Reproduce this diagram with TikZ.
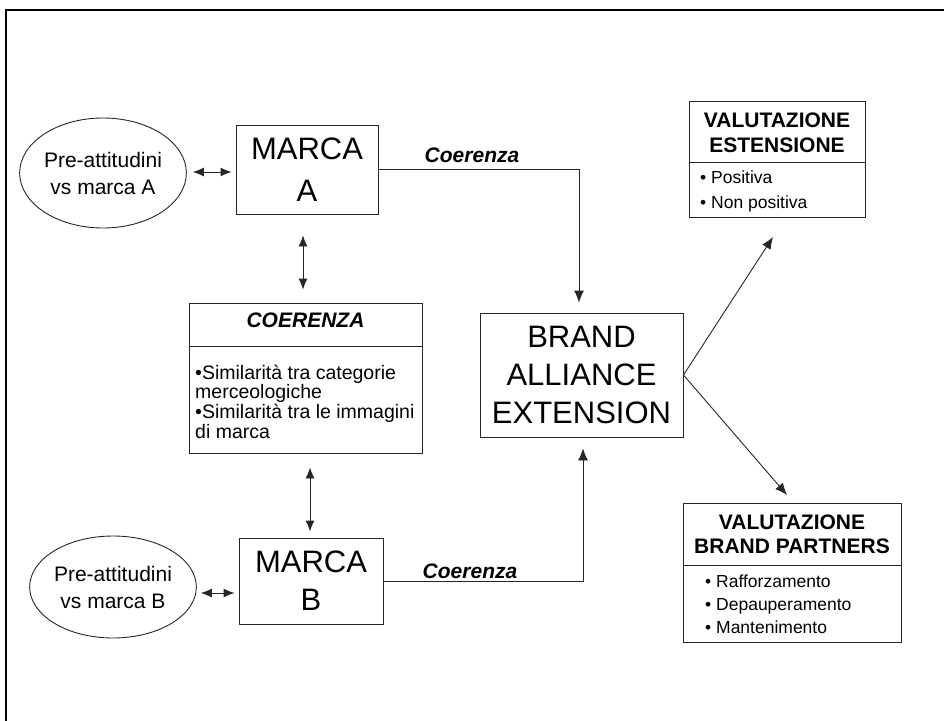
\documentclass[tikz,border=0pt]{standalone}
\usepackage{fontspec}
\setmainfont{Liberation Sans}
\usetikzlibrary{arrows.meta,shapes.geometric,calc}

\begin{document}
\begin{tikzpicture}[x=1pt,y=-1pt,
  thinline/.style={line width=0.9pt,draw=black!85},
  box/.style={thinline,rectangle,inner sep=0pt},
  oval/.style={thinline,ellipse,inner sep=0pt},
  bigtext/.style={font=\fontsize{31}{38}\selectfont,align=center},
  ovaltext/.style={font=\fontsize{21}{27}\selectfont,align=center},
  lbl/.style={font=\fontsize{21}{25}\selectfont\bfseries\itshape,inner sep=0pt},
  head/.style={font=\fontsize{21}{25}\selectfont\bfseries,align=center,inner sep=0pt},
  itemtext/.style={font=\fontsize{19.5}{20}\selectfont,inner sep=0pt,anchor=base west},
  smallitem/.style={font=\fontsize{17.5}{22}\selectfont,inner sep=0pt,anchor=base west},
  tip/.style={-{Latex[length=12pt,width=10pt]},thinline},
  bitip/.style={{Latex[length=11pt,width=9pt]}-{Latex[length=11pt,width=9pt]},thinline}
]
\useasboundingbox (0,0) rectangle (944,720);

% outer frame (open to the right and bottom)
\draw[line width=2.5pt] (6,730) -- (6,10) -- (960,10);

% brand boxes and attitude ovals
\node[box,minimum width=142pt,minimum height=89pt,bigtext] (ma) at (307,169.5) {MARCA\\[4pt]A};
\node[box,minimum width=144pt,minimum height=86pt,bigtext] (mb) at (311,581) {MARCA\\B};
\node[oval,minimum width=137pt,minimum height=110pt,ovaltext] (pa) at (103,173) {Pre-attitudini\\vs marca A};
\node[oval,minimum width=141pt,minimum height=102pt,ovaltext] (pb) at (113,587) {Pre-attitudini\\vs marca B};

% coherence box
\node[box,minimum width=233pt,minimum height=150pt] (coer) at (305.5,378) {};
\draw[thinline] (coer.west |- 0,346) -- (coer.east |- 0,346);
\node[lbl,anchor=base] (coerT) at (305.5,327) {COERENZA};
\node[itemtext] (c1) at (195,379) {•Similarità tra categorie};
\node[itemtext] (c2) at (195,398.5) {merceologiche};
\node[itemtext] (c3) at (195,418.5) {•Similarità tra le immagini};
\node[itemtext] (c4) at (195,438) {di marca};

% central box
\node[box,minimum width=203pt,minimum height=124pt,bigtext] (bae) at (581.5,375) {BRAND\\ALLIANCE\\EXTENSION};

% evaluation boxes
\node[box,minimum width=176pt,minimum height=116pt] (ve) at (777,159) {};
\draw[thinline] (ve.west |- 0,162) -- (ve.east |- 0,162);
\node[head,anchor=base] (veT1) at (777,127) {VALUTAZIONE};
\node[head,anchor=base] (veT2) at (777,152) {ESTENSIONE};
\node[smallitem] (ve1) at (700,183) {• Positiva};
\node[smallitem] (ve2) at (700,208) {• Non positiva};

\node[box,minimum width=218pt,minimum height=139pt] (vb) at (792,572.5) {};
\draw[thinline] (vb.west |- 0,565) -- (vb.east |- 0,565);
\node[head,anchor=base] (vbT1) at (792,529) {VALUTAZIONE};
\node[head,anchor=base] (vbT2) at (792,553) {BRAND PARTNERS};
\node[smallitem] (vb1) at (705,587) {• Rafforzamento};
\node[smallitem] (vb2) at (705,610) {• Depauperamento};
\node[smallitem] (vb3) at (705,633) {• Mantenimento};

% connectors
\draw[bitip,shorten <=6pt,shorten >=4pt] (pa.east |- 0,172) -- (ma.west |- 0,172);
\draw[bitip,shorten <=4pt,shorten >=4pt] (pb.east |- 0,593) -- (mb.west |- 0,593);
\draw[bitip,shorten <=21pt,shorten >=13pt] ([xshift=-4pt]ma.south) -- ([xshift=-2.5pt]coer.north);
\draw[bitip,shorten <=14pt,shorten >=6pt] ([xshift=4.5pt]coer.south) -- ([xshift=-1pt]mb.north);

\draw[tip,shorten >=10pt] (ma.east) -| ([xshift=-2.5pt]bae.north);
\draw[tip,shorten >=11pt] (mb.east) -| ([xshift=1.5pt]bae.south);
\node[lbl,anchor=base] (lA) at (472,162) {Coerenza};
\node[lbl,anchor=base] (lB) at (470,578) {Coerenza};

\coordinate (veTip) at (773,237);
\coordinate (vbTip) at (787,495);
\draw[tip] (bae.east) -- (veTip);
\draw[tip] (bae.east) -- (vbTip);
\end{tikzpicture}
\end{document}
